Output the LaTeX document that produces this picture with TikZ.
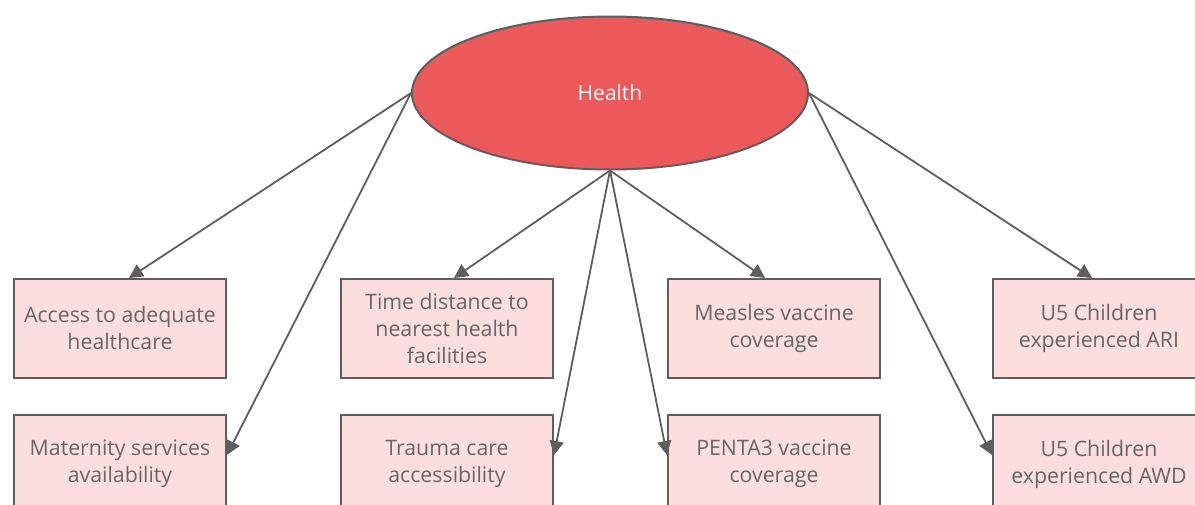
\documentclass[tikz,border=0pt]{standalone}
\usepackage{fontspec}
\setmainfont{Open Sans}
\usetikzlibrary{arrows.meta,shapes.geometric}
\definecolor{healthred}{HTML}{EC595B}
\definecolor{edgegray}{HTML}{5E5E5E}
\definecolor{boxpink}{HTML}{FCDEDF}
\definecolor{textgray}{HTML}{666666}
\begin{document}
\begin{tikzpicture}[x=1pt,y=-1pt,
    latent/.style={ellipse,draw=edgegray,line width=2pt,fill=healthred,
        minimum width=396pt,minimum height=153pt,inner sep=0pt,
        text=white,font=\fontsize{21}{26}\selectfont},
    indicator/.style={rectangle,draw=edgegray,line width=2pt,fill=boxpink,
        minimum width=212pt,minimum height=99pt,inner sep=0pt,align=center,
        text=textgray,font=\fontsize{21.3}{27}\selectfont},
    linkarrow/.style={draw=edgegray,line width=1.8pt,-{Triangle[length=14pt,width=14pt]}}]
    \useasboundingbox (0,0) rectangle (1195,504);
    \clip (0,0) rectangle (1195,504);
    \node[latent]    (health)   at (610,93)     {Health};
    \node[indicator] (access)   at (120,328.5)  {Access to adequate\\healthcare};
    \node[indicator] (time)     at (447,328.5)  {Time distance to\\nearest health\\facilities};
    \node[indicator] (measles)  at (774,328.5)  {Measles vaccine\\coverage};
    \node[indicator] (ari)      at (1099,328.5) {U5 Children\\experienced ARI};
    \node[indicator] (maternity) at (120,464)   {Maternity services\\availability};
    \node[indicator] (trauma)   at (447,464)    {Trauma care\\accessibility};
    \node[indicator] (penta)    at (774,464)    {PENTA3 vaccine\\coverage};
    \node[indicator] (awd)      at (1099,464)   {U5 Children\\experienced AWD};
    \draw[linkarrow] (health.west)  -- ([xshift=9pt]access.north);
    \draw[linkarrow] (health.west)  -- ([yshift=9pt]maternity.east);
    \draw[linkarrow] (health.south) -- ([xshift=7pt]time.north);
    \draw[linkarrow] (health.south) -- ([yshift=9pt]trauma.east);
    \draw[linkarrow] (health.south) -- ([xshift=-9pt]measles.north);
    \draw[linkarrow] (health.south) -- ([yshift=9pt]penta.west);
    \draw[linkarrow] (health.east)  -- ([xshift=-7pt]ari.north);
    \draw[linkarrow] (health.east)  -- ([yshift=9pt]awd.west);
\end{tikzpicture}
\end{document}
